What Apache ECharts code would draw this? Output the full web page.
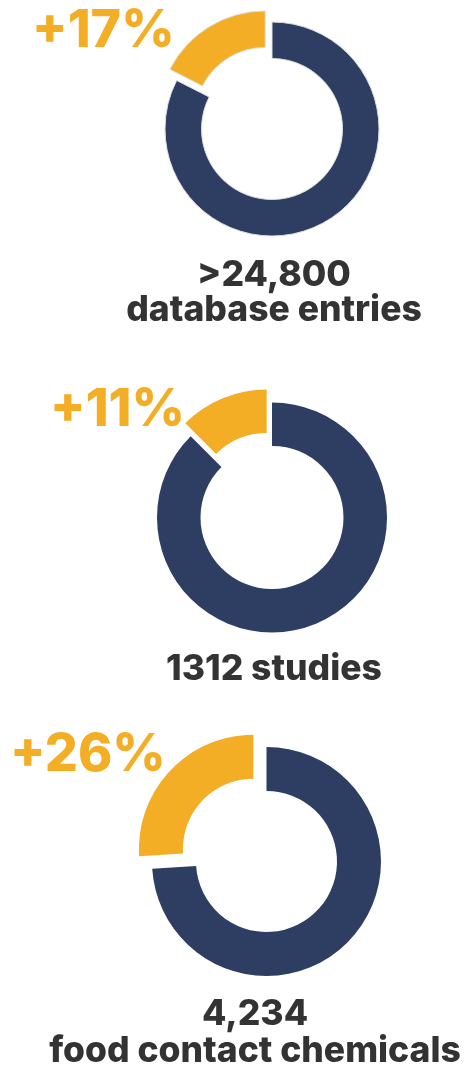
<!DOCTYPE html>
<html>
<head>
<meta charset="utf-8">
<script src="https://cdn.jsdelivr.net/npm/echarts@6/dist/echarts.min.js"></script>
<style>
html,body{margin:0;padding:0;background:#ffffff;}
#chart{width:467px;height:1067px;}
</style>
</head>
<body>
<div id="chart"></div>
<script>
// Data
var growthLabels = ['+17%', '+11%', '+26%'];
var newShare = [17.5, 12.5, 26];        // yellow slice (share of ring, %)
var existingShare = [82.5, 87.5, 74];   // navy slice (share of ring, %)
var countLabels = ['>24,800', '1312 studies', '4,234'];
var descLabels = ['database entries', '', 'food contact chemicals'];

// Layout / style (kept apart from the data)
var NAVY = '#2d3e62', YELLOW = '#f3ae25', TEXT = '#333333';
var pies = [
  {center: [272, 129], radius: [70.5, 107], offset: 13, border: 1},
  {center: [272, 517.5], radius: [71.5, 115], offset: 14, border: 0},
  {center: [266.5, 861.5], radius: [70.5, 114.5], offset: 18, border: 0}
];
var pctPos = [[32, 31], [50, 410], [10, 755]];
var countPos = [[274, 275], [274, 669], [255, 1014]];
var descPos = [[274, 310], null, [255, 1051]];
var FONT_PCT = '800 52px Inter, "Liberation Sans", sans-serif';
var FONT_TXT = '800 35.5px Inter, "DejaVu Sans", sans-serif';

var series = pies.map(function (p, i) {
  return {
    type: 'pie',
    center: p.center,
    radius: p.radius,
    startAngle: 90,
    clockwise: true,
    silent: true,
    animation: false,
    selectedMode: 'single',
    selectedOffset: p.offset,
    label: {show: false},
    labelLine: {show: false},
    emphasis: {disabled: true},
    itemStyle: {borderColor: '#dedede', borderWidth: p.border},
    data: [
      {name: 'existing', value: existingShare[i], itemStyle: {color: NAVY}},
      {name: 'new', value: newShare[i], selected: true, itemStyle: {color: YELLOW}}
    ]
  };
});

var graphics = [];
growthLabels.forEach(function (t, i) {
  graphics.push({
    type: 'text', x: pctPos[i][0], y: pctPos[i][1], silent: true,
    style: {text: t, fill: YELLOW, font: FONT_PCT,
            textAlign: 'left', textVerticalAlign: 'middle'}
  });
});
countLabels.forEach(function (t, i) {
  graphics.push({
    type: 'text', x: countPos[i][0], y: countPos[i][1], silent: true,
    style: {text: t, fill: TEXT, font: FONT_TXT,
            textAlign: 'center', textVerticalAlign: 'middle'}
  });
});
descLabels.forEach(function (t, i) {
  if (!t) return;
  graphics.push({
    type: 'text', x: descPos[i][0], y: descPos[i][1], silent: true,
    style: {text: t, fill: TEXT, font: FONT_TXT,
            textAlign: 'center', textVerticalAlign: 'middle'}
  });
});

var chart = echarts.init(document.getElementById('chart'), null, {renderer: 'canvas'});
chart.setOption({
  backgroundColor: '#ffffff',
  animation: false,
  tooltip: {show: false},
  series: series,
  graphic: graphics
});
</script>
</body>
</html>
